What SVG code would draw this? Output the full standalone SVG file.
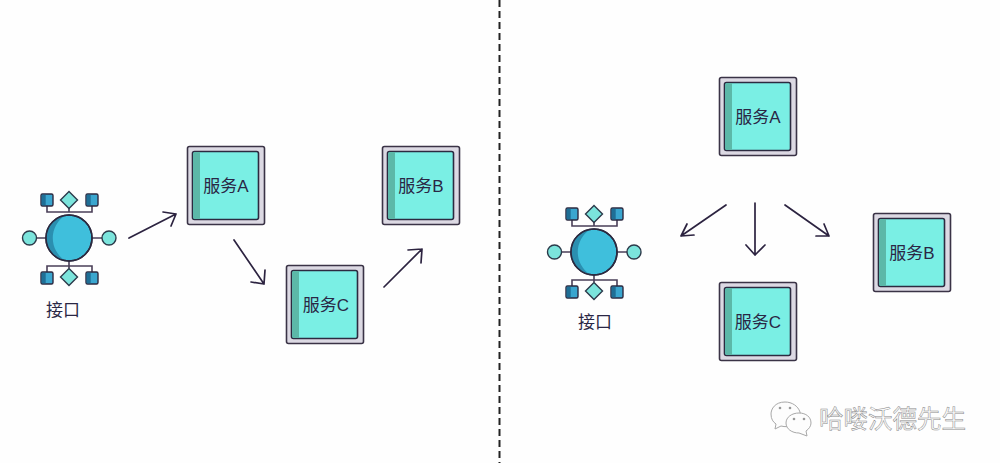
<svg xmlns="http://www.w3.org/2000/svg" width="1000" height="463" viewBox="0 0 1000 463">
<style>
.t{font-family:"Liberation Sans","Noto Sans CJK SC",sans-serif;font-size:17px;fill:#2a2745;text-anchor:middle}
.o{fill:#dcd9e3;stroke:#3a3346;stroke-width:1.6}
.i{fill:#7aefe4;stroke:#2c2a40;stroke-width:1.6}
.s{fill:#5cb8a8}
.a{fill:none;stroke:#2c2340;stroke-width:1.7;stroke-linecap:round;stroke-linejoin:round}
.l{fill:none;stroke:#4a3f58;stroke-width:1.6}
.big{fill:#3fbfdc;stroke:#2c2a40;stroke-width:1.6}
.sq{fill:#3aa6cf;stroke:#2c2a40;stroke-width:1.4}
.sqd{fill:#1f6f96}
.dm{fill:#7be4dc;stroke:#2c3a4a;stroke-width:1.4}
.c{fill:#7be4dc;stroke:#2c3a4a;stroke-width:1.4}
.wm{font-family:"Noto Sans CJK SC","Liberation Sans",sans-serif;font-size:24.500px;fill:#fbfbfb;stroke:#8a8a8a;stroke-width:.5}
.b{fill:#fdfdfd;stroke:#a8a8a8;stroke-width:1}
.e{fill:#999}
</style>
<defs>
<g id="box">
<rect class="o" x="0.5" y="0.5" width="77" height="78" rx="2"/>
<rect class="i" x="5.5" y="5.500" width="66" height="68" rx="2"/>
<path class="s" d="M6.300 7.500a1.500 1.500 0 0 1 1.500-1.500H13V73H7.800a1.500 1.500 0 0 1-1.500-1.500Z"/>
</g>
<g id="hub">
<path class="l" d="M0-33V-26M-22-32V-26H23V-32M0 23V30M-22 34V28H23V34M-23 0H-33M23 0H33"/>
<circle class="big" r="23"/>
<path d="M-4-22.600A23 23 0 0 0-4 22.600A27 27 0 0 1-4-22.600Z" fill="#2b8fb0"/>
<circle r="23" fill="none" stroke="#2c2a40" stroke-width="1.6"/>
<rect class="sq" x="-28" y="-44" width="12" height="12" rx="1.500"/><rect class="sqd" x="-27.300" y="-43.300" width="4" height="10.600"/>
<rect class="sq" x="17" y="-44" width="12" height="12" rx="1.500"/><rect class="sqd" x="17.700" y="-43.300" width="4" height="10.600"/>
<rect class="sq" x="-28" y="34" width="12" height="12" rx="1.500"/><rect class="sqd" x="-27.300" y="34.700" width="4" height="10.600"/>
<rect class="sq" x="17" y="34" width="12" height="12" rx="1.500"/><rect class="sqd" x="17.700" y="34.700" width="4" height="10.600"/>
<path class="dm" d="M0-46.500L8.500-38L0-29.500L-8.500-38Z"/>
<path class="dm" d="M0 30.500L8.500 39L0 47.500L-8.500 39Z"/>
<circle class="c" cx="-39.500" r="7"/>
<circle class="c" cx="40" r="7"/>
</g>
</defs>
<rect width="1000" height="463" fill="#fefefe"/>
<g id="connectors">
<path d="M499.500 0V463" fill="none" stroke="#222" stroke-width="2" stroke-dasharray="7 4"/>
<path class="a" d="M129 238L176 214M163 212L176 214L171 226"/>
<path class="a" d="M234 240L264 284M251 282L264 284L265 270"/>
<path class="a" d="M384 287L422 249M408 250L422 249L421 263"/>
<path class="a" d="M726 205L681 236M694 235L681 236L687 224"/>
<path class="a" d="M755 203V255M746 245L755 255L765 245"/>
<path class="a" d="M785 205L829 236M816 236L829 236L824 224"/>
</g>
<g id="hub-left" transform="translate(69,238)"><use href="#hub"/><text class="t" x="-6" y="78">接口</text></g>
<g id="hub-right" transform="translate(594,252)"><use href="#hub"/><text class="t" x="1" y="76">接口</text></g>
<g id="a-left" transform="translate(187,146)"><use href="#box"/><text class="t" x="39" y="46">服务A</text></g>
<g id="b-left" transform="translate(382,146)"><use href="#box"/><text class="t" x="39" y="46">服务B</text></g>
<g id="c-left" transform="translate(286,265)"><use href="#box"/><text class="t" x="40" y="46">服务C</text></g>
<g id="a-right" transform="translate(719,77)"><use href="#box"/><text class="t" x="39" y="46">服务A</text></g>
<g id="b-right" transform="translate(873,213)"><use href="#box"/><text class="t" x="39" y="46">服务B</text></g>
<g id="c-right" transform="translate(719,282)"><use href="#box"/><text class="t" x="39" y="46">服务C</text></g>
<g id="watermark">
<path class="b" d="M785 402c-10 0-14 7-14 12 0 5 2 8 5 10l-1 5 6-3c4 1 8 1 12-1 6-3 8-9 7-13-2-6-8-10-15-10Z"/>
<path class="b" d="M799 413c-7 0-13 4-13 10s6 10 13 10l8 3-1-5c3-2 5-5 5-8 0-6-5-10-12-10Z"/>
<circle class="e" cx="780" cy="408" r="1.300"/><circle class="e" cx="790" cy="408" r="1.300"/>
<circle class="e" cx="794" cy="419" r="1.300"/><circle class="e" cx="804" cy="419" r="1.300"/>
<text class="wm" x="819" y="428">哈喽沃德先生</text>
</g>
</svg>
